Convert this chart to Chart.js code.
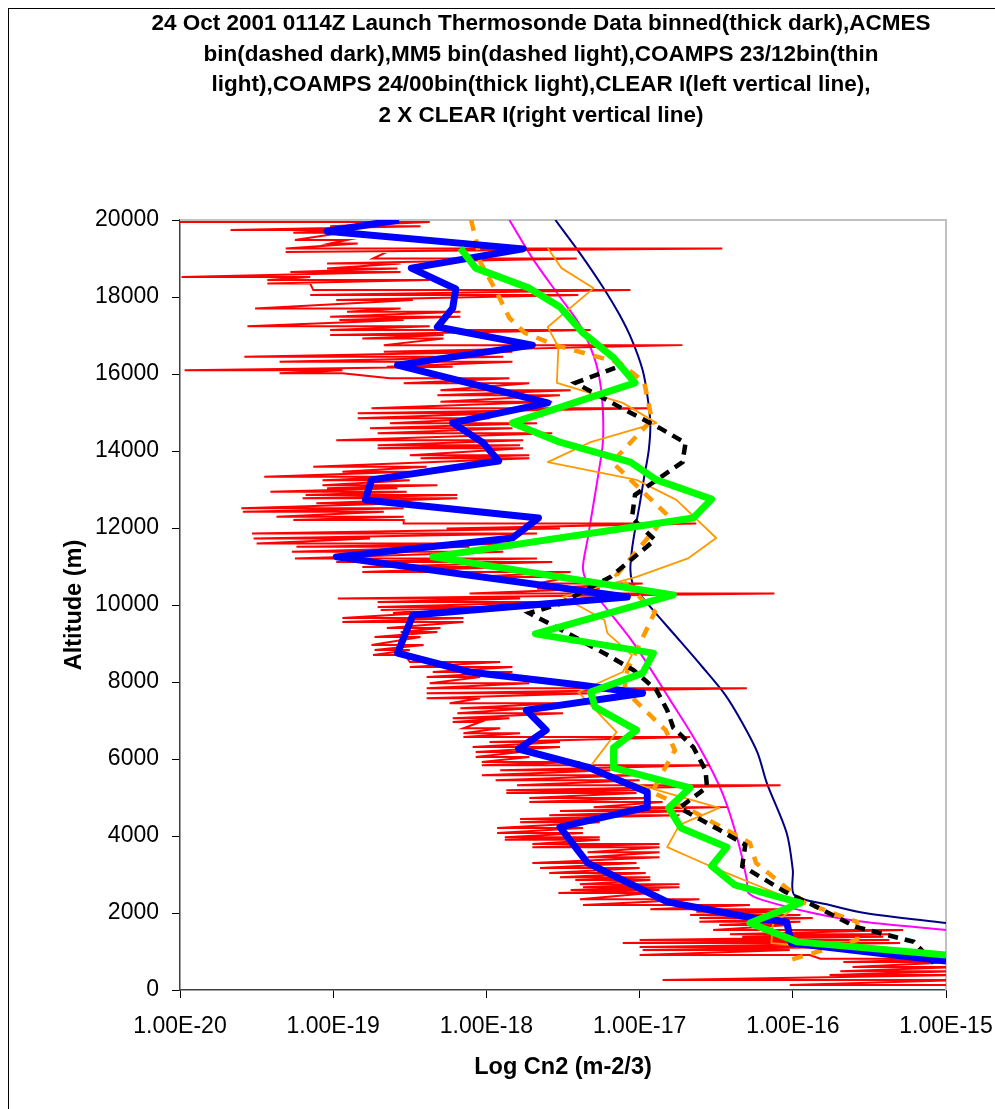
<!DOCTYPE html>
<html lang="en">
<head>
  <meta charset="UTF-8" />
  <title>Thermosonde Cn2 Profile 24 Oct 2001</title>
  <script src="https://cdn.jsdelivr.net/npm/chart.js@4.4.0/dist/chart.umd.min.js"></script>
  <style>
    html, body {
      margin: 0;
      padding: 0;
      background: #fff;
    }

    body {
      width: 995px;
      height: 1109px;
      position: relative;
      overflow: hidden;
      font-family: 'Liberation Sans', Arial, sans-serif;
    }

    /* outer chart frame, only top and left edge are inside the picture */
    .frame {
      position: absolute;
      left: 8px;
      top: 8px;
      right: -10px;
      bottom: -10px;
      border-left: 1px solid #000;
      border-top: 1px solid #000;
    }

    .chart-title {
      position: absolute;
      left: 91px;
      width: 900px;
      top: 8px;
      text-align: center;
      font-weight: bold;
      font-size: 22.5px;
      line-height: 30.5px;
      color: #000;
    }

    canvas {
      position: absolute;
      left: 0;
      top: 0;
    }
  </style>
</head>
<body>
  <div class="frame"></div>
  <canvas id="cn2Chart" width="995" height="1109"></canvas>
  <div class="chart-title">
    24 Oct 2001 0114Z Launch Thermosonde Data binned(thick dark),ACMES<br>
    bin(dashed dark),MM5 bin(dashed light),COAMPS 23/12bin(thin<br>
    light),COAMPS 24/00bin(thick light),CLEAR I(left vertical line),<br>
    2 X CLEAR I(right vertical line)
  </div>

  <script>
    // axis ticks
    const xTickValues = [1e-20, 1e-19, 1e-18, 1e-17, 1e-16, 1e-15];
    const yTickStep = 2000;

    // all Cn2 values below are log10(Cn2), altitudes in m

    // thermosonde raw profile: altitude of each excursion, its left and right end
    const rawAlt = [19950, 19840, 19740, 19670, 19480, 19390, 19260, 19170, 19000, 18870,
      18740, 18650, 18520, 18440, 18350, 18180, 18050, 17920, 17700, 17620,
      17490, 17400, 17240, 17140, 17010, 16920, 16750, 16580, 16450, 16320,
      16190, 16100, 16020, 15890, 15760, 15580, 15450, 15280, 15110, 14980,
      14850, 14720, 14590, 14460, 14280, 14150, 14070, 13890, 13810, 13590,
      13460, 13330, 13240, 13110, 13030, 12940, 12860, 12770, 12640, 12510,
      12420, 12290, 12210, 12120, 11990, 11860, 11730, 11600, 11510, 11380,
      11210, 11120, 10990, 10860, 10730, 10560, 10430, 10300, 10170, 10080,
      9950, 9870, 9790, 9660, 9560, 9400, 9300, 9170, 8960, 8830,
      8700, 8520, 8390, 8260, 8130, 7970, 7840, 7710, 7580, 7450,
      7320, 7190, 7060, 6960, 6800, 6670, 6570, 6440, 6310, 6180,
      6050, 5920, 5840, 5710, 5580, 5450, 5320, 5190, 5120, 4990,
      4880, 4750, 4650, 4540, 4440, 4360, 4210, 4080, 3970, 3900,
      3790, 3710, 3580, 3450, 3300, 3170, 3040, 2930, 2860, 2750,
      2670, 2600, 2520, 2360, 2210, 2100, 2030, 1950, 1870, 1770,
      1690, 1560, 1450, 1380, 1300, 1220, 1120, 1040, 910, 810,
      730, 600, 490, 390, 260, 130];
    const rawLowLog = [-20.00, -19.02, -19.67, -19.26, -19.25, -19.02, -19.31, -19.31, -18.74, -19.04,
      -19.04, -19.28, -19.99, -19.43, -19.43, -19.13, -19.15, -18.98, -19.51, -18.91,
      -19.02, -18.96, -19.56, -19.02, -19.02, -18.81, -18.67, -18.67, -19.58, -19.35,
      -18.65, -19.97, -19.35, -18.63, -18.54, -18.30, -18.32, -18.30, -18.75, -18.84,
      -18.84, -18.63, -18.76, -18.71, -18.98, -18.71, -18.71, -18.50, -18.43, -19.13,
      -18.94, -19.45, -19.07, -19.07, -19.04, -19.41, -19.18, -19.20, -19.11, -19.60,
      -19.59, -19.37, -19.26, -18.54, -18.26, -19.53, -19.52, -19.50, -19.24, -19.27,
      -19.25, -18.98, -18.81, -18.81, -18.11, -17.67, -17.67, -18.11, -18.97, -18.71,
      -18.71, -18.69, -18.61, -18.94, -18.94, -18.65, -18.56, -18.73, -18.75, -18.73,
      -18.74, -18.50, -18.50, -18.35, -18.39, -18.37, -18.39, -18.39, -18.39, -18.24,
      -18.17, -18.19, -18.22, -18.22, -18.15, -18.15, -18.15, -17.98, -18.09, -18.07,
      -18.07, -18.03, -18.03, -17.91, -18.03, -17.94, -17.80, -17.87, -17.87, -17.72,
      -17.72, -17.30, -17.52, -17.59, -17.78, -17.78, -17.93, -17.93, -17.88, -17.88,
      -17.70, -17.70, -17.34, -17.34, -17.70, -17.65, -17.59, -17.52, -17.42, -17.39,
      -17.37, -17.45, -17.53, -17.39, -17.37, -16.93, -16.63, -16.67, -16.61, -16.61,
      -16.48, -16.52, -16.41, -16.33, -17.00, -17.11, -17.00, -16.98, -17.00, -15.82,
      -15.67, -15.61, -15.69, -15.76, -16.85, -16.02];
    const rawHighLog = [-18.37, -18.43, -18.91, -18.94, -18.91, -18.84, -16.46, -18.65, -17.41, -18.56,
      -18.58, -18.56, -19.15, -18.37, -19.15, -17.06, -17.40, -18.48, -18.56, -18.17,
      -18.17, -18.54, -18.37, -17.32, -18.28, -18.28, -16.72, -17.83, -17.89, -17.83,
      -18.22, -18.94, -18.94, -17.85, -17.72, -17.45, -17.52, -17.57, -16.93, -17.89,
      -17.98, -17.67, -17.83, -17.57, -17.76, -17.78, -17.76, -17.72, -17.72, -18.39,
      -18.50, -18.54, -18.50, -18.32, -18.58, -18.52, -18.19, -18.19, -18.54, -18.54,
      -18.67, -18.54, -18.54, -16.63, -17.52, -17.67, -18.76, -17.67, -18.11, -17.89,
      -17.67, -17.57, -17.87, -17.45, -17.45, -16.98, -17.26, -16.12, -17.78, -17.52,
      -17.65, -18.37, -18.41, -18.15, -18.15, -18.30, -18.32, -18.43, -18.41, -18.50,
      -18.53, -17.91, -17.83, -17.83, -18.04, -17.72, -16.30, -17.30, -18.04, -17.52,
      -17.72, -17.50, -17.85, -18.04, -17.91, -17.78, -16.67, -17.52, -17.52, -17.78,
      -17.72, -17.39, -16.54, -17.19, -17.02, -17.00, -16.08, -17.00, -17.02, -16.93,
      -16.85, -16.43, -16.67, -16.74, -17.26, -17.26, -17.37, -17.37, -17.26, -17.26,
      -16.87, -16.87, -16.87, -16.87, -17.02, -17.00, -16.96, -16.93, -16.93, -16.74,
      -16.74, -16.87, -16.93, -16.61, -16.28, -16.08, -16.06, -15.95, -15.87, -15.95,
      -16.02, -15.28, -15.37, -15.41, -15.37, -15.30, -15.69, -16.02, -15.89, -14.90,
      -14.90, -14.90, -14.90, -14.90, -14.90, -14.90];

    // thermosonde data binned (thick dark)
    const thermoBinAlt = [20000, 19710, 19250, 18750, 18210, 17710, 17220, 16750, 16230, 15250,
      14730, 14210, 13740, 13250, 12730, 12260, 11740, 11250, 10210, 9740,
      8750, 8260, 7920, 7710, 7270, 6750, 6260, 5790, 5140, 4750,
      4230, 3300, 2290, 1870, 1770, 1220, 750];
    const thermoBinLog = [-18.57, -19.04, -17.76, -18.49, -18.20, -18.22, -18.32, -17.70, -18.58, -17.60,
      -18.22, -18.02, -17.92, -18.75, -18.79, -17.66, -17.83, -18.98, -17.08, -18.48,
      -18.58, -18.11, -17.39, -16.98, -17.74, -17.61, -17.79, -17.34, -16.95, -16.95,
      -17.52, -17.34, -16.82, -16.26, -16.04, -16.01, -15.00];

    // ACMES bin (dashed dark)
    const acmesAlt = [16160, 15770, 15120, 14600, 14210, 13710, 13300, 12860, 12260, 11690,
      10730, 10030, 9790, 9270, 8700, 8310, 7790, 7270, 6810, 6310,
      5710, 5270, 4730, 4160, 3770, 3220, 2550, 2210, 1640, 1250, 700];
    const acmesLog = [-17.16, -17.42, -17.12, -16.87, -16.70, -16.72, -16.87, -17.03, -17.05, -16.90,
      -17.19, -17.52, -17.72, -17.47, -17.21, -17.04, -16.89, -16.82, -16.78, -16.65,
      -16.57, -16.56, -16.74, -16.48, -16.31, -16.33, -16.05, -15.87, -15.59, -15.21, -15.08];

    // MM5 bin (dashed light)
    const mm5Alt = [20000, 19350, 18910, 18180, 17460, 17070, 16750, 16290, 15790, 14810,
      13710, 12340, 10780, 9820, 8310, 7790, 6750, 6230, 5140, 4680,
      3820, 3300, 2260, 1770, 1300, 730];
    const mm5Log = [-18.10, -18.06, -18.04, -17.94, -17.85, -17.75, -17.55, -17.13, -16.97, -16.92,
      -17.18, -16.82, -17.15, -16.90, -17.08, -17.10, -16.83, -16.77, -16.92, -16.67,
      -16.28, -16.24, -15.92, -15.58, -15.58, -16.06];

    // COAMPS 23/12 bin (thin light)
    const coamps2312Alt = [19270, 18750, 18230, 17220, 16700, 15770, 15250, 14730, 14230, 13710,
      13250, 12730, 11740, 11220, 10730, 10210, 9610, 9270, 8700, 8260,
      7740, 6700, 5710, 4730, 4290, 3710, 3200, 2260, 1710, 1220, 1170];
    const coamps2312Log = [-17.60, -17.51, -17.30, -17.60, -17.53, -17.54, -17.11, -16.89, -17.32, -17.60,
      -17.02, -16.76, -16.50, -16.68, -17.02, -17.50, -17.23, -17.21, -17.05, -17.11,
      -17.40, -17.15, -17.34, -16.48, -16.74, -16.82, -16.53, -15.95, -16.13, -16.14, -15.99];

    // COAMPS 24/00 bin (thick light)
    const coamps2400Alt = [19270, 18750, 18230, 17740, 17070, 16420, 15770, 14730, 14230, 13710,
      13250, 12750, 12260, 11250, 10260, 9250, 8750, 8230, 7740, 7350,
      6750, 6290, 5770, 5250, 4730, 4210, 3710, 3220, 2730, 2260,
      1740, 1250, 910];
    const coamps2400Log = [-18.17, -18.07, -17.72, -17.52, -17.37, -17.17, -17.03, -17.83, -17.52, -17.06,
      -16.89, -16.53, -16.65, -18.35, -16.78, -17.68, -16.91, -16.98, -17.32, -17.29,
      -17.02, -17.17, -17.17, -16.67, -16.81, -16.73, -16.43, -16.53, -16.38, -15.95,
      -16.28, -15.97, -15.00];

    // CLEAR I (left curve)
    const clearAlt = [20000, 19010, 18000, 17270, 16470, 15840, 15070, 14210, 13380, 12650,
      11690, 10960, 10570, 10130, 9010, 7530, 6310, 5120, 3900, 2860,
      2520, 2340, 2000, 1770, 1560];
    const clearLog = [-17.85, -17.70, -17.52, -17.39, -17.30, -17.26, -17.24, -17.24, -17.27, -17.30,
      -17.34, -17.37, -17.34, -17.26, -17.04, -16.80, -16.61, -16.46, -16.36, -16.30,
      -16.29, -16.20, -15.87, -15.54, -15.00];

    // 2 X CLEAR I (right curve)
    const clear2Alt = [20000, 19140, 18260, 17530, 16880, 16100, 15460, 14730, 14030, 13330,
      12600, 11950, 11430, 10910, 10520, 9950, 9220, 8390, 7660, 6940,
      6160, 5380, 4080, 3120, 2470, 2210, 2000, 1740];
    const clear2Log = [-17.55, -17.39, -17.24, -17.13, -17.05, -16.98, -16.95, -16.93, -16.94, -16.97,
      -17.00, -17.03, -17.05, -17.06, -17.04, -16.93, -16.77, -16.59, -16.44, -16.33,
      -16.23, -16.17, -16.04, -16.00, -15.99, -15.76, -15.53, -15.00];

    function toPoints(alts, logs) {
      return alts.map((a, i) => ({ x: Math.pow(10, logs[i]), y: a }));
    }

    // raw trace: out to the right end, then back down to the next left end
    function rawPoints() {
      const pts = [];
      rawAlt.forEach((a, i) => {
        pts.push({ x: Math.pow(10, rawLowLog[i]), y: a });
        pts.push({ x: Math.pow(10, rawHighLog[i]), y: a });
      });
      return pts;
    }

    // grey border on top and right side of plot area
    const plotFrame = {
      id: 'plotFrame',
      beforeDatasetsDraw(chart) {
        const { ctx, chartArea: a } = chart;
        ctx.save();
        ctx.strokeStyle = '#c0c0c0';
        ctx.lineWidth = 2;
        ctx.beginPath();
        ctx.moveTo(a.left, a.top);
        ctx.lineTo(a.right, a.top);
        ctx.lineTo(a.right, a.bottom);
        ctx.stroke();
        ctx.restore();
      }
    };

    Chart.defaults.font.family = "'Liberation Sans', Arial, sans-serif";
    Chart.defaults.color = '#000';

    const line = (label, data, color, width, extra) => Object.assign({
      label: label,
      data: data,
      showLine: true,
      borderColor: color,
      backgroundColor: color,
      borderWidth: width,
      pointRadius: 0,
      fill: false,
      clip: 0,
      borderJoinStyle: 'round'
    }, extra || {});

    // first dataset is painted on top
    const datasets = [
      line('COAMPS 24/00bin', toPoints(coamps2400Alt, coamps2400Log), '#00ff00', 7),
      line('Thermosonde binned', toPoints(thermoBinAlt, thermoBinLog), '#0000ff', 7),
      line('ACMES bin', toPoints(acmesAlt, acmesLog), '#000000', 4.5, { borderDash: [10, 7], borderJoinStyle: 'miter' }),
      line('MM5 bin', toPoints(mm5Alt, mm5Log), '#ff9900', 4.5, { borderDash: [11, 9], borderJoinStyle: 'miter' }),
      line('COAMPS 23/12bin', toPoints(coamps2312Alt, coamps2312Log), '#ff9900', 1.8),
      line('Thermosonde', rawPoints(), '#ff0000', 2, { borderJoinStyle: 'miter' }),
      line('CLEAR I', toPoints(clearAlt, clearLog), '#ff00ff', 2, { tension: 0.3 }),
      line('2 X CLEAR I', toPoints(clear2Alt, clear2Log), '#000080', 2, { tension: 0.3 })
    ];

    new Chart(document.getElementById('cn2Chart'), {
      type: 'scatter',
      data: { datasets: datasets },
      plugins: [plotFrame],
      options: {
        responsive: false,
        animation: false,
        layout: {
          padding: { top: 220, right: 49, left: 0, bottom: 0 }
        },
        plugins: {
          legend: { display: false },
          tooltip: { enabled: false }
        },
        scales: {
          x: {
            type: 'logarithmic',
            min: 1e-20,
            max: 1e-15,
            afterBuildTicks: (scale) => {
              scale.ticks = xTickValues.map(v => ({ value: v }));
            },
            afterFit: (scale) => {
              scale.height = 119;
              scale.paddingLeft = 0;
              scale.paddingRight = 0;
            },
            ticks: {
              font: { size: 23 },
              color: '#000',
              padding: 15,
              maxRotation: 0,
              autoSkip: false,
              callback: (v) => Number(v).toExponential(2).toUpperCase()
            },
            grid: {
              drawOnChartArea: false,
              tickLength: 8,
              color: '#000'
            },
            border: { color: '#404040', width: 1.5 },
            title: {
              display: true,
              text: 'Log Cn2 (m-2/3)',
              font: { size: 23.5, weight: 'bold' },
              color: '#000',
              padding: { top: 0, bottom: 27 }
            }
          },
          y: {
            min: 0,
            max: 20000,
            afterFit: (scale) => {
              scale.width = 180;
              scale.paddingTop = 0;
              scale.paddingBottom = 0;
            },
            ticks: {
              stepSize: yTickStep,
              font: { size: 23 },
              color: '#000',
              padding: 13,
              callback: (v) => String(v)
            },
            grid: {
              drawOnChartArea: false,
              tickLength: 8,
              color: '#000'
            },
            border: { color: '#404040', width: 1.5 },
            title: {
              display: true,
              text: 'Altitude (m)',
              font: { size: 23.5, weight: 'bold' },
              color: '#000',
              padding: { top: 60, bottom: 0 }
            }
          }
        }
      }
    });
  </script>
</body>
</html>
